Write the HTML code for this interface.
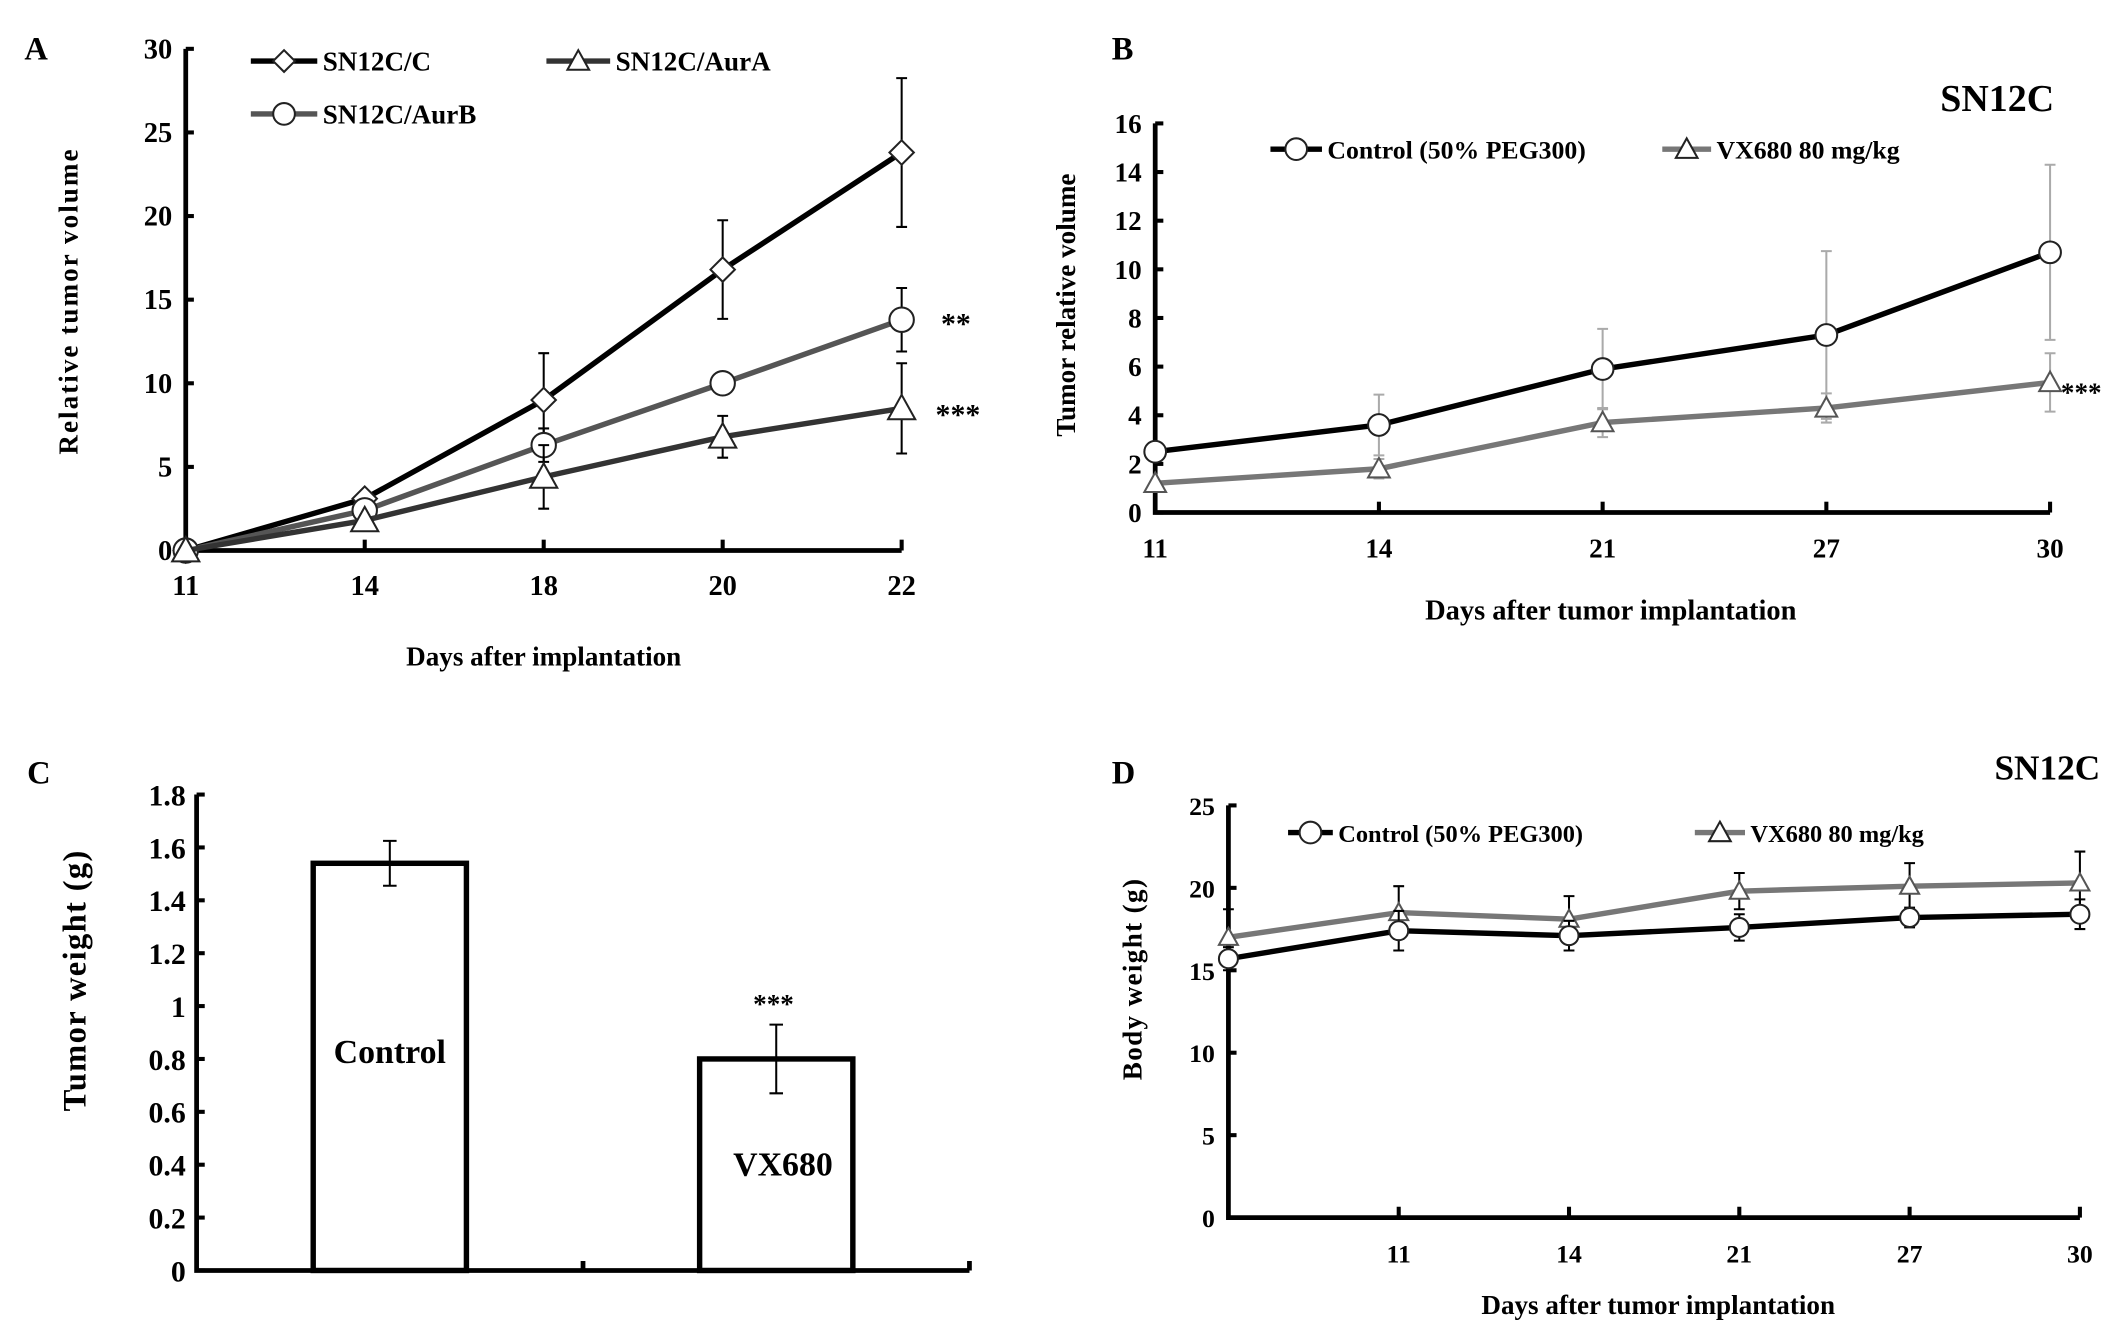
<!DOCTYPE html>
<html><head><meta charset="utf-8">
<style>
html,body{margin:0;padding:0;background:#fff;}
svg{display:block;}
text{font-family:"Liberation Serif",serif;font-weight:bold;fill:#000;}
</style></head>
<body>
<svg id="fig" width="2126" height="1341" viewBox="0 0 1568 989" xmlns="http://www.w3.org/2000/svg">
<rect width="1568" height="989" fill="#fff"/>
</svg>
<script>
// ---- Panel A data ----
const aDays = ["11","14","18","20","22"];
const aYTicks = [0,5,10,15,20,25,30];
const aC = [0,3.1,9.0,16.8,23.8];
const aCErr = [0,0.2,2.8,2.95,4.45];
const aB = [0,2.4,6.3,10.0,13.8];
const aBErr = [0,0.3,1.0,0.5,1.9];
const aA = [0,1.8,4.4,6.8,8.5];
const aAErr = [0,0.3,1.9,1.25,2.7];
// ---- Panel B data ----
const bDays = ["11","14","21","27","30"];
const bYTicks = [0,2,4,6,8,10,12,14,16];
const bCtrl = [2.5,3.6,5.9,7.3,10.7];
const bCtrlErr = [0,1.25,1.65,3.45,3.6];
const bVX = [1.2,1.8,3.7,4.3,5.35];
const bVXErr = [0,0.4,0.6,0.6,1.2];
// ---- Panel C data ----
const cCats = ["Control","VX680"];
const cVals = [1.54,0.80];
const cErr = [0.085,0.13];
const cYTicks = ["0","0.2","0.4","0.6","0.8","1","1.2","1.4","1.6","1.8"];
// ---- Panel D data ----
const dDays = ["","11","14","21","27","30"];
const dYTicks = [0,5,10,15,20,25];
const dCtrl = [15.7,17.4,17.1,17.6,18.2,18.4];
const dCtrlErr = [0.7,1.2,0.9,0.8,0.6,0.9];
const dVX = [17.0,18.5,18.1,19.8,20.1,20.3];
const dVXErr = [1.7,1.6,1.4,1.1,1.4,1.9];

const svg = document.getElementById('fig');
const NS = 'http://www.w3.org/2000/svg';
function el(tag, attrs, parent){
  const e = document.createElementNS(NS, tag);
  for (const k in attrs) e.setAttribute(k, attrs[k]);
  (parent||svg).appendChild(e);
  return e;
}
function txt(s, x, y, size, anchor, parent, extra){
  const t = el('text', Object.assign({x:x, y:y, 'font-size':size, 'text-anchor':anchor||'start'}, extra||{}), parent);
  t.textContent = s;
  return t;
}
function group(name){
  const g = el('g', {});
  
  
  return g;
}
function marker(kind, x, y, r, stroke, g){
  let m;
  if (kind==='diamond') m = el('polygon', {points:`${x},${y-r} ${x+r},${y} ${x},${y+r} ${x-r},${y}`, fill:'#fff', stroke:stroke, 'stroke-width':1.5}, g);
  else if (kind==='circle') m = el('circle', {cx:x, cy:y, r:r, fill:'#fff', stroke:stroke, 'stroke-width':1.5}, g);
  else m = el('polygon', {points:`${x},${y-r} ${x+r},${y+r*0.8} ${x-r},${y+r*0.8}`, fill:'#fff', stroke:stroke, 'stroke-width':1.5}, g);
  return m;
}
function lineChart(cfg){
  const g = group(cfg.name);
  const xs = i => cfg.x0 + i*(cfg.x1-cfg.x0)/(cfg.cats.length-1);
  const ys = v => cfg.y0 - (v-cfg.yMin)/(cfg.yMax-cfg.yMin)*(cfg.y0-cfg.yTop);
  const ax = el('path', {d:`M${cfg.x0},${cfg.yTop} V${cfg.y0} H${cfg.x1}`, fill:'none', stroke:'#000', 'stroke-width':3.5}, g);
  
  
  cfg.yTicks.forEach(v=>{
    const y = ys(v);
    el('line', {x1:cfg.x0, x2:cfg.x0+6, y1:y, y2:y, stroke:'#000', 'stroke-width':3}, g);
    const t = txt(String(v), cfg.x0-10, y+7, cfg.tickSize, 'end', g);
    
    
  });
  cfg.cats.forEach((c,i)=>{
    const x = xs(i);
    el('line', {x1:x, x2:x, y1:cfg.y0, y2:cfg.y0-8, stroke:'#000', 'stroke-width':3}, g);
    if (c!=='') {
      const t = txt(c, x, cfg.y0+33, cfg.tickSize, 'middle', g);
      
      
    }
  });
  cfg.series.forEach(s=>{
    const sg = el('g', {}, g);
    
    
    s.vals.forEach((v,i)=>{
      const e = s.err[i]; if (!e) return;
      const x = xs(i);
      el('path', {d:`M${x},${ys(v+e)} V${ys(v-e)} M${x-4},${ys(v+e)} H${x+4} M${x-4},${ys(v-e)} H${x+4}`, stroke:s.errColor, 'stroke-width':1.5, fill:'none'}, sg);
    });
    const pts = s.vals.map((v,i)=>`${xs(i)},${ys(v)}`).join(' ');
    const pl = el('polyline', {points:pts, fill:'none', stroke:s.color, 'stroke-width':s.width||4}, sg);
    
    
    s.vals.forEach((v,i)=>{
      const m = marker(s.marker, xs(i), ys(v), s.r, s.mstroke||'#222', sg);
      
      
    });
  });
  return {g, xs, ys};
}
function legendItem(name, x1, x2, y, color, kind, label, size, g){
  const lg = el('g', {}, g);
  
  
  el('line', {x1:x1, x2:x2, y1:y, y2:y, stroke:color, 'stroke-width':4}, lg);
  marker(kind, (x1+x2)/2, y, 8, '#222', lg);
  txt(label, x2+4, y+7, size, 'start', lg);
}

// ---------- Panel A ----------
const A = lineChart({name:'panel-a-chart', cats:aDays, x0:137, x1:665, y0:406, yTop:36, yMin:0, yMax:30, yTicks:aYTicks, tickSize:21,
  series:[
    {name:'series-sn12c-c', vals:aC, err:aCErr, color:'#000', errColor:'#000', marker:'diamond', r:9},
    {name:'series-sn12c-aurb', vals:aB, err:aBErr, color:'#555', errColor:'#000', marker:'circle', r:9},
    {name:'series-sn12c-aura', vals:aA, err:aAErr, color:'#333', errColor:'#000', marker:'triangle', r:10}
  ]});
let t;
t = txt('A', 18, 44, 24, 'start');  
legendItem('legend-sn12c-c', 185, 234, 45, '#000', 'diamond', 'SN12C/C', 20, A.g);
legendItem('legend-sn12c-aura', 403, 450, 45, '#333', 'triangle', 'SN12C/AurA', 20, A.g);
legendItem('legend-sn12c-aurb', 185, 234, 84, '#555', 'circle', 'SN12C/AurB', 20, A.g);
t = txt('**', 694, 246, 22, 'start');  
t = txt('***', 690, 313, 22, 'start');  
t = txt('Days after implantation', 401, 491, 20, 'middle');  
t = txt('Relative  tumor  volume', 0, 0, 20, 'middle', null, {transform:'translate(57,222) rotate(-90)', 'letter-spacing':'1.5'});  

// ---------- Panel B ----------
const B = lineChart({name:'panel-b-chart', cats:bDays, x0:852, x1:1512, y0:378, yTop:91, yMin:0, yMax:16, yTicks:bYTicks, tickSize:20,
  series:[
    {name:'series-control-b', vals:bCtrl, err:bCtrlErr, color:'#000', errColor:'#aaa', marker:'circle', r:8},
    {name:'series-vx680-b', vals:bVX, err:bVXErr, color:'#777', errColor:'#aaa', marker:'triangle', r:8, mstroke:'#555'}
  ]});
t = txt('B', 820, 44, 24, 'start');  
t = txt('SN12C', 1515, 82, 28, 'end');  
legendItem('legend-control-b', 937, 975, 110, '#000', 'circle', 'Control (50% PEG300)', 19, B.g);
legendItem('legend-vx680-b', 1226, 1262, 110, '#777', 'triangle', 'VX680 80 mg/kg', 19, B.g);
t = txt('***', 1520, 296, 20, 'start');  
t = txt('Days  after  tumor  implantation', 1188, 457, 21, 'middle');  
t = txt('Tumor  relative  volume', 0, 0, 20, 'middle', null, {transform:'translate(793,225) rotate(-90)'});  

// ---------- Panel C ----------
(function(){
  const g = group('panel-c-chart');
  const x0=145, x1=715, y0=937, yTop=586, yMax=1.8;
  const ys = v => y0 - v/yMax*(y0-yTop);
  const bw = 113;
  const slot = (x1-x0)/cCats.length;
  const centers = cCats.map((c,i)=> x0 + (i+0.5)*slot);
  let d = `M${x0},${yTop} V${y0} H${x1}`;
  cCats.forEach((c,i)=>{ d += ` M${x0+(i+1)*slot},${y0} v-7`; });
  el('path', {d:d, fill:'none', stroke:'#000', 'stroke-width':3.5}, g);
  cYTicks.forEach(s=>{
    const y = ys(parseFloat(s));
    el('line', {x1:x0, x2:x0+6, y1:y, y2:y, stroke:'#000', 'stroke-width':3}, g);
    const tt = txt(s, x0-8, y+8, 22, 'end', g);
    
    
  });
  cVals.forEach((v,i)=>{
    const cx = centers[i];
    const r = el('rect', {x:cx-bw/2, y:ys(v), width:bw, height:y0-ys(v), fill:'#fff', stroke:'#000', 'stroke-width':4}, g);
    
    
    const e = cErr[i];
    el('path', {d:`M${cx},${ys(v+e)} V${ys(v-e)} M${cx-5},${ys(v+e)} H${cx+5} M${cx-5},${ys(v-e)} H${cx+5}`, stroke:'#000', 'stroke-width':1.5, fill:'none'}, g);
  });
  let a = txt('Control', centers[0], 784, 25, 'middle', g);  
  a = txt('VX680', centers[1]+5, 867, 25, 'middle', g);  
  a = txt('***', centers[1]-2, 747, 20, 'middle', g);  
})();
t = txt('C', 20, 578, 24, 'start');  
t = txt('Tumor weight (g)', 0, 0, 24, 'middle', null, {transform:'translate(63,723) rotate(-90)', 'letter-spacing':'1'});  

// ---------- Panel D ----------
const D = lineChart({name:'panel-d-chart', cats:dDays, x0:906, x1:1534, y0:898, yTop:594, yMin:0, yMax:25, yTicks:dYTicks, tickSize:19,
  series:[
    {name:'series-vx680-d', vals:dVX, err:dVXErr, color:'#777', errColor:'#000', marker:'triangle', r:7, mstroke:'#555'},
    {name:'series-control-d', vals:dCtrl, err:dCtrlErr, color:'#000', errColor:'#000', marker:'circle', r:7}
  ]});
t = txt('D', 820, 578, 24, 'start');  
t = txt('SN12C', 1549, 575, 26, 'end');  
legendItem('legend-control-d', 950, 983, 614, '#000', 'circle', 'Control (50% PEG300)', 18, D.g);
legendItem('legend-vx680-d', 1250, 1287, 614, '#777', 'triangle', 'VX680 80 mg/kg', 18, D.g);
t = txt('Days after tumor implantation', 1223, 969, 20, 'middle');  
t = txt('Body weight (g)', 0, 0, 20, 'middle', null, {transform:'translate(842,722) rotate(-90)', 'letter-spacing':'1'});  
</script>
</body></html>
